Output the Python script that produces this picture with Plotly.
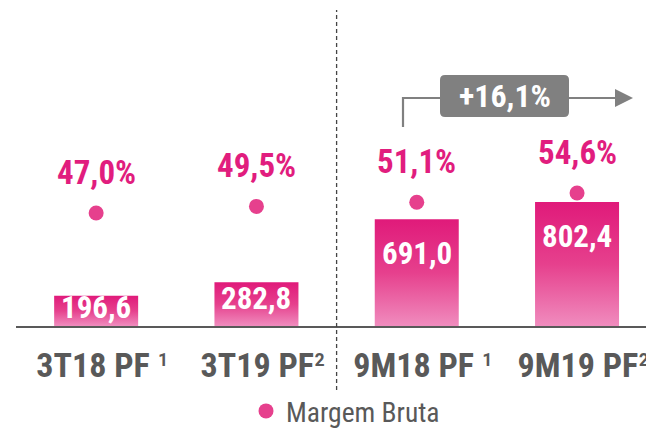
import plotly.graph_objects as go

# ---------------- data ----------------
categories = ["3T18 PF", "3T19 PF", "9M18 PF", "9M19 PF"]
footnotes = ["¹", "²", "¹", "²"]
gross_profit = [196.6, 282.8, 691.0, 802.4]
gross_margin = [47.0, 49.5, 51.1, 54.6]
growth_label = "+16,1%"
series_name = "Margem Bruta"


def br(v, d=1):
    return f"{v:.{d}f}".replace(".", ",")


# ---------------- layout geometry ----------------
W, H = 646, 429
ML, MR, MT, MB = 16, 0, 0, 103
PW, PH = W - ML - MR, H - MT - MB
X0 = -0.5
XPX = 160.3          # pixels per category
YPX = 0.1545         # pixels per unit (bars)
Y2PX = 2.6316        # pixels per point (margin)
x_range = [X0, X0 + PW / XPX]
y_range = [0, PH / YPX]
y2_lo = 47.0 - (PH - 213) / Y2PX
y2_range = [y2_lo, y2_lo + PH / Y2PX]


def P(px, py):
    return (px - ML) / PW, (H - MB - py) / PH


FONT = "Liberation Sans Narrow, Arial Narrow, Roboto Condensed, Liberation Sans, sans-serif"
PINK_TXT = "#E11D7E"
DOT = "#E6408D"
GREY = "#595959"
BOX = "#808080"

fig = go.Figure()

# bars with vertical gradient
hw = 0.262
for i, v in enumerate(gross_profit):
    fig.add_trace(go.Scatter(
        x=[i - hw, i + hw, i + hw, i - hw, i - hw],
        y=[0, 0, v, v, 0],
        mode="lines", fill="toself", line=dict(width=0),
        fillgradient=dict(type="vertical",
                          colorscale=[[0, "#F08CBE"], [0.5, "#E6408D"], [1, "#E01A7A"]]),
        hoverinfo="skip", showlegend=False))

# margin dots
fig.add_trace(go.Scatter(
    x=list(range(len(categories))), y=gross_margin, yaxis="y2",
    mode="markers", marker=dict(color=DOT, size=15),
    name=series_name, showlegend=True, hoverinfo="skip"))

annotations = []
label_shift = [-12, -16, -34, -34]
for i, v in enumerate(gross_profit):
    annotations.append(dict(
        x=i, y=v, xref="x", yref="y", text=f"<b>{br(v)}</b>", showarrow=False,
        yanchor="middle", yshift=label_shift[i],
        font=dict(family=FONT, size=31, color="white")))
for i, m in enumerate(gross_margin):
    annotations.append(dict(
        x=i, y=m, xref="x", yref="y2", text=f"<b>{br(m)}%</b>", showarrow=False,
        yanchor="middle", yshift=41,
        font=dict(family=FONT, size=33, color=PINK_TXT)))

# growth box label
bx, by = P(504.5, 96)
annotations.append(dict(x=bx, y=by, xref="paper", yref="paper", text=f"<b>{growth_label}</b>",
                        showarrow=False, xanchor="center", yanchor="middle",
                        font=dict(family=FONT, size=32, color="white")))

shapes = []
# category separators (tick marks)
for t in [-0.5, 0.5, 1.5, 2.5]:
    shapes.append(dict(type="line", xref="x", yref="y", x0=t, x1=t,
                       ysizemode="pixel", yanchor=0, y0=0, y1=-9,
                       line=dict(color=GREY, width=2)))
# dashed divider
_, yt = P(0, 10)
_, yb = P(0, 390)
shapes.append(dict(type="line", xref="x", yref="paper", x0=1.5, x1=1.5, y0=yb, y1=yt,
                   line=dict(color="#444444", width=1.3, dash="4px,3px")))


def pth(points):
    s = ""
    for k, (px, py) in enumerate(points):
        xx, yy = P(px, py)
        s += ("M" if k == 0 else "L") + f"{xx:.5f},{yy:.5f} "
    return s


shapes.append(dict(type="path", xref="paper", yref="paper",
                   path=pth([(403, 127), (403, 98), (618, 98)]),
                   line=dict(color=BOX, width=2.2)))
shapes.append(dict(type="path", xref="paper", yref="paper",
                   path=pth([(615, 89), (633, 98), (615, 107)]) + "Z",
                   fillcolor=BOX, line=dict(width=0)))

# rounded box
x1p, x2p, y1p, y2p, r = 440, 569, 75, 117, 5


def pt(px, py):
    xx, yy = P(px, py)
    return f"{xx:.5f},{yy:.5f}"


box_path = (f"M{pt(x1p + r, y1p)} L{pt(x2p - r, y1p)} Q{pt(x2p, y1p)} {pt(x2p, y1p + r)} "
            f"L{pt(x2p, y2p - r)} Q{pt(x2p, y2p)} {pt(x2p - r, y2p)} "
            f"L{pt(x1p + r, y2p)} Q{pt(x1p, y2p)} {pt(x1p, y2p - r)} "
            f"L{pt(x1p, y1p + r)} Q{pt(x1p, y1p)} {pt(x1p + r, y1p)} Z")
shapes.append(dict(type="path", xref="paper", yref="paper", path=box_path,
                   fillcolor=BOX, line=dict(width=0), layer="below"))

gaps = [" ", "", " ", ""]
ticktext = [f"<b>{c}</b>{g}<span style='font-weight:normal'>{f}</span>"
            for c, f, g in zip(categories, footnotes, gaps)]
label_offset = 0.04  # tick labels sit slightly right of the category centre

lx, ly = P(246, 411)
fig.update_layout(
    width=W, height=H,
    margin=dict(l=ML, r=MR, t=MT, b=MB, autoexpand=False),
    paper_bgcolor="white", plot_bgcolor="white",
    xaxis=dict(range=x_range, tickmode="array",
               tickvals=[i + label_offset for i in range(len(categories))],
               ticktext=ticktext, ticks="", showgrid=False, zeroline=False,
               showline=True, linecolor=GREY, linewidth=2, tickangle=0, automargin=False,
               ticklabeloverflow="allow",
               tickfont=dict(family=FONT, size=34, color=GREY), ticklabelstandoff=8),
    yaxis=dict(range=y_range, visible=False, showgrid=False, zeroline=False),
    yaxis2=dict(range=y2_range, overlaying="y", visible=False, showgrid=False, zeroline=False),
    showlegend=True,
    legend=dict(orientation="h", x=lx, y=ly, xanchor="left", yanchor="middle",
                font=dict(family=FONT, size=27.5, color=GREY), bgcolor="rgba(0,0,0,0)"),
    annotations=annotations, shapes=shapes,
)

fig.write_html("out.html", config={"displayModeBar": False},
               post_script="document.body.style.margin='0px';")
